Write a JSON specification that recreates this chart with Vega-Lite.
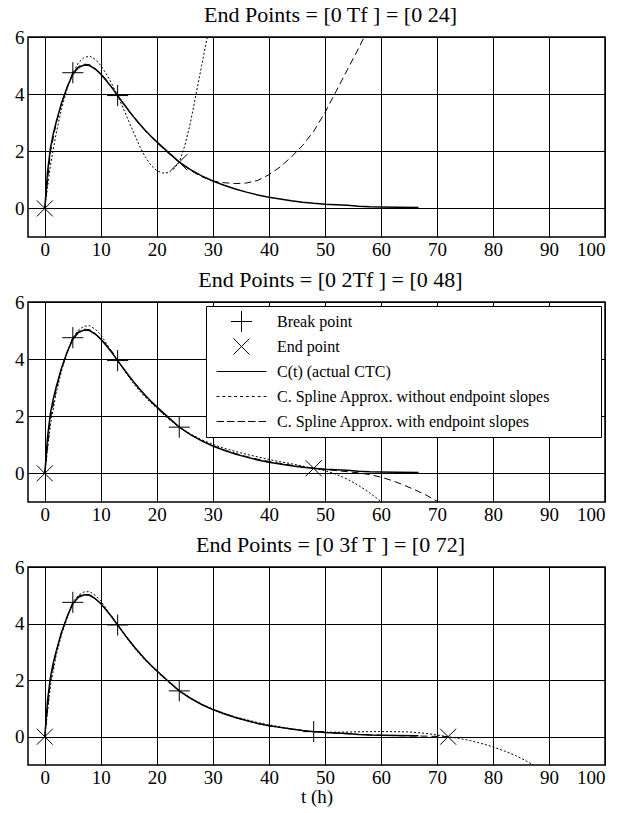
{
  "$schema": "https://vega.github.io/schema/vega-lite/v6.json",
  "padding": {"left": 13, "top": 3, "right": 0, "bottom": 0},
  "spacing": 8,
  "config": {
    "font": "Liberation Serif",
    "background": "white",
    "view": {"stroke": "black", "strokeWidth": 1.5},
    "axis": {"grid": true, "gridColor": "black", "gridOpacity": 1, "gridWidth": 1, "domain": false, "ticks": false,
      "labelFont": "Liberation Serif", "labelFontSize": 19, "labelColor": "black",
      "titleFont": "Liberation Serif", "titleFontSize": 19, "titleFontWeight": "normal", "titleColor": "black"},
    "title": {"font": "Liberation Serif", "fontSize": 22, "fontWeight": "normal", "color": "black", "offset": 1, "dx": 14}
  },
  "resolve": {"scale": {"shape": "independent"}, "legend": {"shape": "independent"}},
  "datasets": {
    "actual": [
      {"t":0,"c":0},{"t":0.5,"c":1.3},{"t":1,"c":2.1},{"t":1.5,"c":2.6},{"t":2,"c":3.0},{"t":3,"c":3.7},{"t":4,"c":4.25},{"t":5,"c":4.7},{"t":6,"c":4.93},{"t":7,"c":5.02},{"t":8,"c":5.0},{"t":9,"c":4.88},{"t":10,"c":4.7},{"t":11,"c":4.47},{"t":12,"c":4.22},{"t":13,"c":3.95},{"t":14,"c":3.68},{"t":15,"c":3.42},{"t":16,"c":3.17},{"t":17,"c":2.94},{"t":18,"c":2.72},{"t":19,"c":2.52},{"t":20,"c":2.33},{"t":22,"c":1.97},{"t":24,"c":1.62},{"t":26,"c":1.36},{"t":28,"c":1.14},{"t":30,"c":0.96},{"t":32,"c":0.81},{"t":34,"c":0.68},{"t":36,"c":0.57},{"t":38,"c":0.47},{"t":40,"c":0.39},{"t":42,"c":0.33},{"t":44,"c":0.27},{"t":46,"c":0.22},{"t":48,"c":0.18},{"t":50,"c":0.15},{"t":52,"c":0.13},{"t":54,"c":0.11},{"t":56,"c":0.08},{"t":58,"c":0.06},{"t":60,"c":0.05},{"t":63,"c":0.04},{"t":66.7,"c":0.03}
    ],
    "spline": [
      {"panel":1,"kind":"dotted","t":0,"c":0},{"panel":1,"kind":"dotted","t":1,"c":1.5},{"panel":1,"kind":"dotted","t":2,"c":2.6},{"panel":1,"kind":"dotted","t":3,"c":3.5},{"panel":1,"kind":"dotted","t":4,"c":4.2},{"panel":1,"kind":"dotted","t":5,"c":4.75},{"panel":1,"kind":"dotted","t":6,"c":5.1},{"panel":1,"kind":"dotted","t":7,"c":5.28},{"panel":1,"kind":"dotted","t":8,"c":5.33},{"panel":1,"kind":"dotted","t":9,"c":5.22},{"panel":1,"kind":"dotted","t":10,"c":5.0},{"panel":1,"kind":"dotted","t":11,"c":4.7},{"panel":1,"kind":"dotted","t":12,"c":4.35},{"panel":1,"kind":"dotted","t":13,"c":3.95},{"panel":1,"kind":"dotted","t":14,"c":3.5},{"panel":1,"kind":"dotted","t":15,"c":3.05},{"panel":1,"kind":"dotted","t":16,"c":2.6},{"panel":1,"kind":"dotted","t":17,"c":2.15},{"panel":1,"kind":"dotted","t":18,"c":1.78},{"panel":1,"kind":"dotted","t":19,"c":1.5},{"panel":1,"kind":"dotted","t":20,"c":1.32},{"panel":1,"kind":"dotted","t":21,"c":1.24},{"panel":1,"kind":"dotted","t":22,"c":1.25},{"panel":1,"kind":"dotted","t":23,"c":1.38},{"panel":1,"kind":"dotted","t":24,"c":1.62},{"panel":1,"kind":"dotted","t":25,"c":2.2},{"panel":1,"kind":"dotted","t":26,"c":3.0},{"panel":1,"kind":"dotted","t":27,"c":4.0},{"panel":1,"kind":"dotted","t":28,"c":5.0},{"panel":1,"kind":"dotted","t":29,"c":6.0},{"panel":1,"kind":"dotted","t":30,"c":7.1},
      {"panel":1,"kind":"dashed","t":0,"c":0},{"panel":1,"kind":"dashed","t":1,"c":1.95},{"panel":1,"kind":"dashed","t":2,"c":2.95},{"panel":1,"kind":"dashed","t":3,"c":3.7},{"panel":1,"kind":"dashed","t":4,"c":4.25},{"panel":1,"kind":"dashed","t":5,"c":4.75},{"panel":1,"kind":"dashed","t":6,"c":4.97},{"panel":1,"kind":"dashed","t":7,"c":5.05},{"panel":1,"kind":"dashed","t":8,"c":5.03},{"panel":1,"kind":"dashed","t":9,"c":4.9},{"panel":1,"kind":"dashed","t":10,"c":4.72},{"panel":1,"kind":"dashed","t":11,"c":4.5},{"panel":1,"kind":"dashed","t":12,"c":4.24},{"panel":1,"kind":"dashed","t":13,"c":3.95},{"panel":1,"kind":"dashed","t":14,"c":3.68},{"panel":1,"kind":"dashed","t":16,"c":3.15},{"panel":1,"kind":"dashed","t":18,"c":2.7},{"panel":1,"kind":"dashed","t":20,"c":2.3},{"panel":1,"kind":"dashed","t":22,"c":1.95},{"panel":1,"kind":"dashed","t":24,"c":1.62},{"panel":1,"kind":"dashed","t":26,"c":1.33},{"panel":1,"kind":"dashed","t":28,"c":1.11},{"panel":1,"kind":"dashed","t":30,"c":0.96},{"panel":1,"kind":"dashed","t":32,"c":0.9},{"panel":1,"kind":"dashed","t":34,"c":0.87},{"panel":1,"kind":"dashed","t":36,"c":0.89},{"panel":1,"kind":"dashed","t":38,"c":0.98},{"panel":1,"kind":"dashed","t":40,"c":1.18},{"panel":1,"kind":"dashed","t":42,"c":1.45},{"panel":1,"kind":"dashed","t":44,"c":1.8},{"panel":1,"kind":"dashed","t":46,"c":2.2},{"panel":1,"kind":"dashed","t":48,"c":2.7},{"panel":1,"kind":"dashed","t":50,"c":3.35},{"panel":1,"kind":"dashed","t":52,"c":4.1},{"panel":1,"kind":"dashed","t":54,"c":4.85},{"panel":1,"kind":"dashed","t":56,"c":5.6},{"panel":1,"kind":"dashed","t":57,"c":6.0},{"panel":1,"kind":"dashed","t":58,"c":6.4},
      {"panel":2,"kind":"dotted","t":0,"c":0},{"panel":2,"kind":"dotted","t":1,"c":1.7},{"panel":2,"kind":"dotted","t":2,"c":2.8},{"panel":2,"kind":"dotted","t":3,"c":3.6},{"panel":2,"kind":"dotted","t":4,"c":4.25},{"panel":2,"kind":"dotted","t":5,"c":4.75},{"panel":2,"kind":"dotted","t":6,"c":5.02},{"panel":2,"kind":"dotted","t":7,"c":5.15},{"panel":2,"kind":"dotted","t":8,"c":5.17},{"panel":2,"kind":"dotted","t":9,"c":5.05},{"panel":2,"kind":"dotted","t":10,"c":4.85},{"panel":2,"kind":"dotted","t":11,"c":4.55},{"panel":2,"kind":"dotted","t":12,"c":4.25},{"panel":2,"kind":"dotted","t":13,"c":3.95},{"panel":2,"kind":"dotted","t":14,"c":3.65},{"panel":2,"kind":"dotted","t":16,"c":3.1},{"panel":2,"kind":"dotted","t":18,"c":2.65},{"panel":2,"kind":"dotted","t":20,"c":2.28},{"panel":2,"kind":"dotted","t":22,"c":1.92},{"panel":2,"kind":"dotted","t":24,"c":1.62},{"panel":2,"kind":"dotted","t":26,"c":1.38},{"panel":2,"kind":"dotted","t":28,"c":1.18},{"panel":2,"kind":"dotted","t":30,"c":1.02},{"panel":2,"kind":"dotted","t":32,"c":0.88},{"panel":2,"kind":"dotted","t":34,"c":0.77},{"panel":2,"kind":"dotted","t":36,"c":0.67},{"panel":2,"kind":"dotted","t":38,"c":0.58},{"panel":2,"kind":"dotted","t":40,"c":0.49},{"panel":2,"kind":"dotted","t":42,"c":0.41},{"panel":2,"kind":"dotted","t":44,"c":0.34},{"panel":2,"kind":"dotted","t":46,"c":0.26},{"panel":2,"kind":"dotted","t":48,"c":0.17},{"panel":2,"kind":"dotted","t":50,"c":0.1},{"panel":2,"kind":"dotted","t":52,"c":-0.03},{"panel":2,"kind":"dotted","t":54,"c":-0.2},{"panel":2,"kind":"dotted","t":56,"c":-0.42},{"panel":2,"kind":"dotted","t":58,"c":-0.68},{"panel":2,"kind":"dotted","t":60,"c":-0.98},{"panel":2,"kind":"dotted","t":61,"c":-1.15},
      {"panel":2,"kind":"dashed","t":0,"c":0},{"panel":2,"kind":"dashed","t":1,"c":1.9},{"panel":2,"kind":"dashed","t":2,"c":2.9},{"panel":2,"kind":"dashed","t":3,"c":3.7},{"panel":2,"kind":"dashed","t":4,"c":4.25},{"panel":2,"kind":"dashed","t":5,"c":4.75},{"panel":2,"kind":"dashed","t":6,"c":4.97},{"panel":2,"kind":"dashed","t":7,"c":5.05},{"panel":2,"kind":"dashed","t":8,"c":5.03},{"panel":2,"kind":"dashed","t":9,"c":4.9},{"panel":2,"kind":"dashed","t":10,"c":4.72},{"panel":2,"kind":"dashed","t":12,"c":4.27},{"panel":2,"kind":"dashed","t":13,"c":3.95},{"panel":2,"kind":"dashed","t":14,"c":3.68},{"panel":2,"kind":"dashed","t":16,"c":3.15},{"panel":2,"kind":"dashed","t":18,"c":2.7},{"panel":2,"kind":"dashed","t":20,"c":2.3},{"panel":2,"kind":"dashed","t":22,"c":1.95},{"panel":2,"kind":"dashed","t":24,"c":1.62},{"panel":2,"kind":"dashed","t":26,"c":1.36},{"panel":2,"kind":"dashed","t":28,"c":1.14},{"panel":2,"kind":"dashed","t":30,"c":0.97},{"panel":2,"kind":"dashed","t":32,"c":0.82},{"panel":2,"kind":"dashed","t":34,"c":0.7},{"panel":2,"kind":"dashed","t":36,"c":0.59},{"panel":2,"kind":"dashed","t":38,"c":0.5},{"panel":2,"kind":"dashed","t":40,"c":0.42},{"panel":2,"kind":"dashed","t":42,"c":0.35},{"panel":2,"kind":"dashed","t":44,"c":0.29},{"panel":2,"kind":"dashed","t":46,"c":0.23},{"panel":2,"kind":"dashed","t":48,"c":0.18},{"panel":2,"kind":"dashed","t":50,"c":0.14},{"panel":2,"kind":"dashed","t":52,"c":0.1},{"panel":2,"kind":"dashed","t":54,"c":0.06},{"panel":2,"kind":"dashed","t":56,"c":0.02},{"panel":2,"kind":"dashed","t":58,"c":-0.04},{"panel":2,"kind":"dashed","t":60,"c":-0.13},{"panel":2,"kind":"dashed","t":62,"c":-0.25},{"panel":2,"kind":"dashed","t":64,"c":-0.4},{"panel":2,"kind":"dashed","t":66,"c":-0.57},{"panel":2,"kind":"dashed","t":68,"c":-0.75},{"panel":2,"kind":"dashed","t":70,"c":-0.97},{"panel":2,"kind":"dashed","t":71,"c":-1.1},
      {"panel":3,"kind":"dotted","t":0,"c":0},{"panel":3,"kind":"dotted","t":1,"c":1.8},{"panel":3,"kind":"dotted","t":2,"c":2.85},{"panel":3,"kind":"dotted","t":3,"c":3.62},{"panel":3,"kind":"dotted","t":4,"c":4.2},{"panel":3,"kind":"dotted","t":5,"c":4.75},{"panel":3,"kind":"dotted","t":6,"c":5.0},{"panel":3,"kind":"dotted","t":7,"c":5.12},{"panel":3,"kind":"dotted","t":8,"c":5.13},{"panel":3,"kind":"dotted","t":9,"c":5.0},{"panel":3,"kind":"dotted","t":10,"c":4.8},{"panel":3,"kind":"dotted","t":11,"c":4.52},{"panel":3,"kind":"dotted","t":12,"c":4.24},{"panel":3,"kind":"dotted","t":13,"c":3.95},{"panel":3,"kind":"dotted","t":14,"c":3.66},{"panel":3,"kind":"dotted","t":16,"c":3.13},{"panel":3,"kind":"dotted","t":18,"c":2.68},{"panel":3,"kind":"dotted","t":20,"c":2.3},{"panel":3,"kind":"dotted","t":22,"c":1.94},{"panel":3,"kind":"dotted","t":24,"c":1.62},{"panel":3,"kind":"dotted","t":26,"c":1.37},{"panel":3,"kind":"dotted","t":28,"c":1.15},{"panel":3,"kind":"dotted","t":30,"c":0.98},{"panel":3,"kind":"dotted","t":32,"c":0.83},{"panel":3,"kind":"dotted","t":34,"c":0.7},{"panel":3,"kind":"dotted","t":36,"c":0.6},{"panel":3,"kind":"dotted","t":38,"c":0.5},{"panel":3,"kind":"dotted","t":40,"c":0.42},{"panel":3,"kind":"dotted","t":42,"c":0.35},{"panel":3,"kind":"dotted","t":44,"c":0.28},{"panel":3,"kind":"dotted","t":46,"c":0.22},{"panel":3,"kind":"dotted","t":48,"c":0.17},{"panel":3,"kind":"dotted","t":50,"c":0.16},{"panel":3,"kind":"dotted","t":52,"c":0.16},{"panel":3,"kind":"dotted","t":55,"c":0.17},{"panel":3,"kind":"dotted","t":58,"c":0.18},{"panel":3,"kind":"dotted","t":62,"c":0.18},{"panel":3,"kind":"dotted","t":65,"c":0.17},{"panel":3,"kind":"dotted","t":68,"c":0.12},{"panel":3,"kind":"dotted","t":70,"c":0.06},{"panel":3,"kind":"dotted","t":72,"c":0.0},{"panel":3,"kind":"dotted","t":74,"c":-0.06},{"panel":3,"kind":"dotted","t":76,"c":-0.14},{"panel":3,"kind":"dotted","t":78,"c":-0.24},{"panel":3,"kind":"dotted","t":80,"c":-0.36},{"panel":3,"kind":"dotted","t":82,"c":-0.5},{"panel":3,"kind":"dotted","t":84,"c":-0.66},{"panel":3,"kind":"dotted","t":86,"c":-0.86},{"panel":3,"kind":"dotted","t":88,"c":-1.1},
      {"panel":3,"kind":"dashed","t":0,"c":0},{"panel":3,"kind":"dashed","t":1,"c":1.95},{"panel":3,"kind":"dashed","t":2,"c":2.95},{"panel":3,"kind":"dashed","t":3,"c":3.7},{"panel":3,"kind":"dashed","t":4,"c":4.25},{"panel":3,"kind":"dashed","t":5,"c":4.75},{"panel":3,"kind":"dashed","t":6,"c":4.97},{"panel":3,"kind":"dashed","t":7,"c":5.04},{"panel":3,"kind":"dashed","t":8,"c":5.02},{"panel":3,"kind":"dashed","t":9,"c":4.89},{"panel":3,"kind":"dashed","t":10,"c":4.71},{"panel":3,"kind":"dashed","t":12,"c":4.24},{"panel":3,"kind":"dashed","t":13,"c":3.95},{"panel":3,"kind":"dashed","t":14,"c":3.68},{"panel":3,"kind":"dashed","t":16,"c":3.16},{"panel":3,"kind":"dashed","t":18,"c":2.71},{"panel":3,"kind":"dashed","t":20,"c":2.32},{"panel":3,"kind":"dashed","t":22,"c":1.96},{"panel":3,"kind":"dashed","t":24,"c":1.62},{"panel":3,"kind":"dashed","t":26,"c":1.36},{"panel":3,"kind":"dashed","t":28,"c":1.14},{"panel":3,"kind":"dashed","t":30,"c":0.96},{"panel":3,"kind":"dashed","t":32,"c":0.81},{"panel":3,"kind":"dashed","t":34,"c":0.68},{"panel":3,"kind":"dashed","t":36,"c":0.57},{"panel":3,"kind":"dashed","t":38,"c":0.47},{"panel":3,"kind":"dashed","t":40,"c":0.39},{"panel":3,"kind":"dashed","t":42,"c":0.33},{"panel":3,"kind":"dashed","t":44,"c":0.27},{"panel":3,"kind":"dashed","t":46,"c":0.22},{"panel":3,"kind":"dashed","t":48,"c":0.18},{"panel":3,"kind":"dashed","t":52,"c":0.12},{"panel":3,"kind":"dashed","t":56,"c":0.08},{"panel":3,"kind":"dashed","t":60,"c":0.05},{"panel":3,"kind":"dashed","t":64,"c":0.03},{"panel":3,"kind":"dashed","t":68,"c":0.02},{"panel":3,"kind":"dashed","t":72,"c":0.0}
    ],
    "markers": [
      {"panel":1,"kind":"Break point","t":5,"c":4.75},{"panel":1,"kind":"Break point","t":13,"c":3.95},{"panel":1,"kind":"End point","t":0,"c":0},{"panel":1,"kind":"End point","t":24,"c":1.62},
      {"panel":2,"kind":"Break point","t":5,"c":4.75},{"panel":2,"kind":"Break point","t":13,"c":3.95},{"panel":2,"kind":"Break point","t":24,"c":1.62},{"panel":2,"kind":"End point","t":0,"c":0},{"panel":2,"kind":"End point","t":48,"c":0.18},
      {"panel":3,"kind":"Break point","t":5,"c":4.75},{"panel":3,"kind":"Break point","t":13,"c":3.95},{"panel":3,"kind":"Break point","t":24,"c":1.62},{"panel":3,"kind":"Break point","t":48,"c":0.18},{"panel":3,"kind":"End point","t":0,"c":0},{"panel":3,"kind":"End point","t":72,"c":0.0}
    ]
  },
  "vconcat": [
    {
      "width": 577, "height": 200,
      "title": "End Points = [0 Tf ] = [0 24]",
      "layer": [
        {"data": {"name": "actual"}, "mark": {"type": "line", "color": "black", "strokeWidth": 1.5, "clip": true},
         "encoding": {
           "x": {"field": "t", "type": "quantitative", "scale": {"domain": [-3, 100], "nice": false, "zero": false}, "axis": {"values": [0,10,20,30,40,50,60,70,80,90,100], "title": null, "labelPadding": 3}},
           "y": {"field": "c", "type": "quantitative", "scale": {"domain": [-1, 6], "nice": false, "zero": false}, "axis": {"values": [0,2,4,6], "title": null, "labelPadding": 4}}}},
        {"data": {"name": "spline"}, "transform": [{"filter": "datum.panel == 1 && datum.kind == 'dotted'"}],
         "mark": {"type": "line", "color": "black", "strokeWidth": 1, "strokeDash": [2, 2], "clip": true},
         "encoding": {"x": {"field": "t", "type": "quantitative"}, "y": {"field": "c", "type": "quantitative"}}},
        {"data": {"name": "spline"}, "transform": [{"filter": "datum.panel == 1 && datum.kind == 'dashed'"}],
         "mark": {"type": "line", "color": "black", "strokeWidth": 1, "strokeDash": [7, 4], "clip": true},
         "encoding": {"x": {"field": "t", "type": "quantitative"}, "y": {"field": "c", "type": "quantitative"}}},
        {"data": {"name": "markers"}, "transform": [{"filter": "datum.panel == 1"}],
         "mark": {"type": "point", "filled": false, "color": "black", "strokeWidth": 1, "size": 4096, "opacity": 1},
         "encoding": {"x": {"field": "t", "type": "quantitative"}, "y": {"field": "c", "type": "quantitative"},
           "shape": {"field": "kind", "type": "nominal", "legend": null,
             "scale": {"domain": ["Break point", "End point", "C(t) (actual CTC)", "C. Spline Approx. without endpoint slopes", "C. Spline Approx. with endpoint slopes"],
               "range": ["M-0.33,0L0.33,0M0,-0.33L0,0.33", "M-0.25,-0.25L0.25,0.25M-0.25,0.25L0.25,-0.25", "M-0.78,0L0.78,0", "M-0.78,0L-0.69,0M-0.596,0L-0.506,0M-0.4125,0L-0.3225,0M-0.229,0L-0.139,0M-0.045,0L0.045,0M0.139,0L0.229,0M0.3225,0L0.4125,0M0.506,0L0.596,0M0.69,0L0.78,0", "M-0.78,0L-0.546,0M-0.452,0L-0.218,0M-0.124,0L0.11,0M0.204,0L0.438,0M0.532,0L0.766,0"]}}}}
      ]
    },
    {
      "width": 577, "height": 200,
      "title": "End Points = [0 2Tf ] = [0 48]",
      "layer": [
        {"data": {"name": "actual"}, "mark": {"type": "line", "color": "black", "strokeWidth": 1.5, "clip": true},
         "encoding": {
           "x": {"field": "t", "type": "quantitative", "scale": {"domain": [-3, 100], "nice": false, "zero": false}, "axis": {"values": [0,10,20,30,40,50,60,70,80,90,100], "title": null, "labelPadding": 3}},
           "y": {"field": "c", "type": "quantitative", "scale": {"domain": [-1, 6], "nice": false, "zero": false}, "axis": {"values": [0,2,4,6], "title": null, "labelPadding": 4}}}},
        {"data": {"name": "spline"}, "transform": [{"filter": "datum.panel == 2 && datum.kind == 'dotted'"}],
         "mark": {"type": "line", "color": "black", "strokeWidth": 1, "strokeDash": [2, 2], "clip": true},
         "encoding": {"x": {"field": "t", "type": "quantitative"}, "y": {"field": "c", "type": "quantitative"}}},
        {"data": {"name": "spline"}, "transform": [{"filter": "datum.panel == 2 && datum.kind == 'dashed'"}],
         "mark": {"type": "line", "color": "black", "strokeWidth": 1, "strokeDash": [7, 4], "clip": true},
         "encoding": {"x": {"field": "t", "type": "quantitative"}, "y": {"field": "c", "type": "quantitative"}}},
        {"data": {"name": "markers"}, "transform": [{"filter": "datum.panel == 2"}],
         "mark": {"type": "point", "filled": false, "color": "black", "strokeWidth": 1, "size": 4096, "opacity": 1},
         "encoding": {"x": {"field": "t", "type": "quantitative"}, "y": {"field": "c", "type": "quantitative"},
           "shape": {"field": "kind", "type": "nominal",
             "legend": {"orient": "top-right", "offset": 4, "title": " ", "titleOrient": "right", "titlePadding": 48, "padding": 3,
               "symbolSize": 4096, "symbolStrokeWidth": 1, "symbolStrokeColor": "black", "symbolFillColor": "transparent", "symbolOpacity": 1,
               "labelFont": "Liberation Serif", "labelFontSize": 16, "labelColor": "black", "labelOffset": 3, "labelLimit": 400,
               "clipHeight": 25, "rowPadding": 0, "strokeColor": "black", "fillColor": "white", "cornerRadius": 0},
             "scale": {"domain": ["Break point", "End point", "C(t) (actual CTC)", "C. Spline Approx. without endpoint slopes", "C. Spline Approx. with endpoint slopes"],
               "range": ["M-0.33,0L0.33,0M0,-0.33L0,0.33", "M-0.25,-0.25L0.25,0.25M-0.25,0.25L0.25,-0.25", "M-0.78,0L0.78,0", "M-0.78,0L-0.69,0M-0.596,0L-0.506,0M-0.4125,0L-0.3225,0M-0.229,0L-0.139,0M-0.045,0L0.045,0M0.139,0L0.229,0M0.3225,0L0.4125,0M0.506,0L0.596,0M0.69,0L0.78,0", "M-0.78,0L-0.546,0M-0.452,0L-0.218,0M-0.124,0L0.11,0M0.204,0L0.438,0M0.532,0L0.766,0"]}}}}
      ]
    },
    {
      "width": 577, "height": 198,
      "title": "End Points = [0 3f T ] = [0 72]",
      "layer": [
        {"data": {"name": "actual"}, "mark": {"type": "line", "color": "black", "strokeWidth": 1.5, "clip": true},
         "encoding": {
           "x": {"field": "t", "type": "quantitative", "scale": {"domain": [-3, 100], "nice": false, "zero": false}, "axis": {"values": [0,10,20,30,40,50,60,70,80,90,100], "title": "t (h)", "labelPadding": 3, "titlePadding": 0}},
           "y": {"field": "c", "type": "quantitative", "scale": {"domain": [-1, 6], "nice": false, "zero": false}, "axis": {"values": [0,2,4,6], "title": null, "labelPadding": 4}}}},
        {"data": {"name": "spline"}, "transform": [{"filter": "datum.panel == 3 && datum.kind == 'dotted'"}],
         "mark": {"type": "line", "color": "black", "strokeWidth": 1, "strokeDash": [2, 2], "clip": true},
         "encoding": {"x": {"field": "t", "type": "quantitative"}, "y": {"field": "c", "type": "quantitative"}}},
        {"data": {"name": "spline"}, "transform": [{"filter": "datum.panel == 3 && datum.kind == 'dashed'"}],
         "mark": {"type": "line", "color": "black", "strokeWidth": 1, "strokeDash": [7, 4], "clip": true},
         "encoding": {"x": {"field": "t", "type": "quantitative"}, "y": {"field": "c", "type": "quantitative"}}},
        {"data": {"name": "markers"}, "transform": [{"filter": "datum.panel == 3"}],
         "mark": {"type": "point", "filled": false, "color": "black", "strokeWidth": 1, "size": 4096, "opacity": 1},
         "encoding": {"x": {"field": "t", "type": "quantitative"}, "y": {"field": "c", "type": "quantitative"},
           "shape": {"field": "kind", "type": "nominal", "legend": null,
             "scale": {"domain": ["Break point", "End point", "C(t) (actual CTC)", "C. Spline Approx. without endpoint slopes", "C. Spline Approx. with endpoint slopes"],
               "range": ["M-0.33,0L0.33,0M0,-0.33L0,0.33", "M-0.25,-0.25L0.25,0.25M-0.25,0.25L0.25,-0.25", "M-0.78,0L0.78,0", "M-0.78,0L-0.69,0M-0.596,0L-0.506,0M-0.4125,0L-0.3225,0M-0.229,0L-0.139,0M-0.045,0L0.045,0M0.139,0L0.229,0M0.3225,0L0.4125,0M0.506,0L0.596,0M0.69,0L0.78,0", "M-0.78,0L-0.546,0M-0.452,0L-0.218,0M-0.124,0L0.11,0M0.204,0L0.438,0M0.532,0L0.766,0"]}}}}
      ]
    }
  ]
}
